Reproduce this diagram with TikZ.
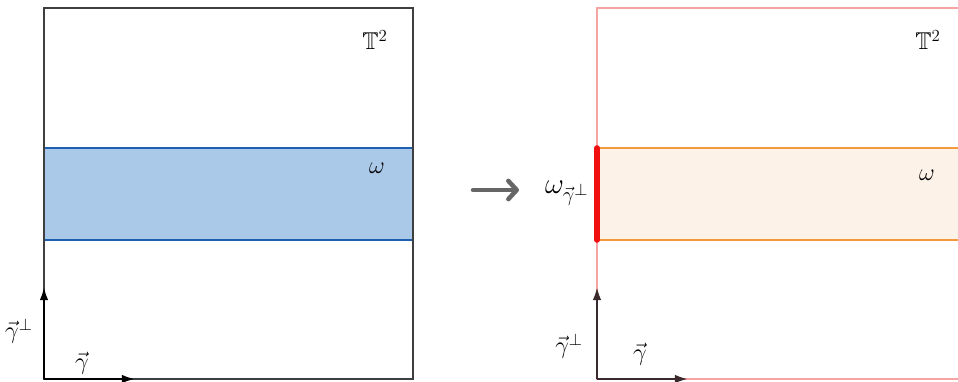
\documentclass[tikz,border=0pt]{standalone}
\usepackage{amsmath,amssymb}
\usetikzlibrary{arrows.meta,positioning}
\definecolor{framegray}{HTML}{3F3F3F}
\definecolor{bandblue}{HTML}{AAC8E8}
\definecolor{lineblue}{HTML}{1F5FB0}
\definecolor{framepink}{HTML}{F6A3A3}
\definecolor{bandorange}{HTML}{FDF2E7}
\definecolor{lineorange}{HTML}{F59A3C}
\definecolor{edgered}{HTML}{F01010}
\definecolor{axisdark}{HTML}{3A2A2C}
\definecolor{arrowgray}{HTML}{666666}

\begin{document}
\begin{tikzpicture}[
    x=0.025cm, y=-0.025cm,
    axis/.style={-{Latex[length=10pt,width=6pt]}, line width=2pt, #1},
    lbl/.style={font=\LARGE, inner sep=1pt},
  ]
  \clip (0,0) rectangle (958,381);
  \fill[white] (0,0) rectangle (958,381);

  % =================== LEFT PANEL ===================
  % band
  \fill[bandblue] (44,148) rectangle (413,240);
  \draw[lineblue, line width=1.8pt] (44,148) -- (413,148);
  \draw[lineblue, line width=1.8pt] (44,240) -- (413,240);
  % frame
  \draw[framegray, line width=1.8pt] (44,8) rectangle (413,379);

  \node[lbl] (T1) at (375,40) {$\mathbb{T}^2$};
  \node[lbl] (W1) at (377,168) {$\omega$};

  % axes
  \coordinate (O1) at (44,379);
  \coordinate (V1) at (44,286);
  \coordinate (H1) at (136,379);
  \draw[axis=black] (O1) -- (V1);
  \draw[axis=black] (O1) -- (H1);
  \node[lbl] (gp1) at (19,331) {$\vec{\gamma}^{\perp}$};
  \node[lbl] (g1) at (82,363) {$\vec{\gamma}$};

  % =================== CENTER ARROW ===================
  \coordinate (A) at (473,190);
  \coordinate (B) at (519,190);
  \draw[arrowgray, line width=3.2pt, line cap=round,
        -{Straight Barb[length=6pt,width=13pt,line cap=round,line join=round]}] (A) -- (B);

  % =================== RIGHT PANEL ===================
  % band
  \fill[bandorange] (597,148) rectangle (966,240);
  \draw[lineorange, line width=1.8pt] (597,148) -- (966,148);
  \draw[lineorange, line width=1.8pt] (597,240) -- (966,240);
  % frame
  \draw[framepink, line width=0.8pt] (597,8) rectangle (966,379);
  % boundary piece
  \coordinate (E1) at (597,148);
  \coordinate (E2) at (597,240);
  \draw[edgered, line width=4pt, line cap=round] (E1) -- (E2);
  \node[font=\huge, inner sep=1pt] (W2e) at (567,193) {$\omega_{\vec{\gamma}^{\perp}}$};

  \node[lbl] (T2) at (928,40) {$\mathbb{T}^2$};
  \node[lbl] (W2) at (927,175) {$\omega$};

  % axes
  \coordinate (O2) at (597,379);
  \coordinate (V2) at (597,286);
  \coordinate (H2) at (689,379);
  \draw[axis=axisdark] (O2) -- (V2);
  \draw[axis=axisdark] (O2) -- (H2);
  \node[lbl] (gp2) at (569,346) {$\vec{\gamma}^{\perp}$};
  \node[lbl] (g2) at (640,354) {$\vec{\gamma}$};

\end{tikzpicture}
\end{document}
